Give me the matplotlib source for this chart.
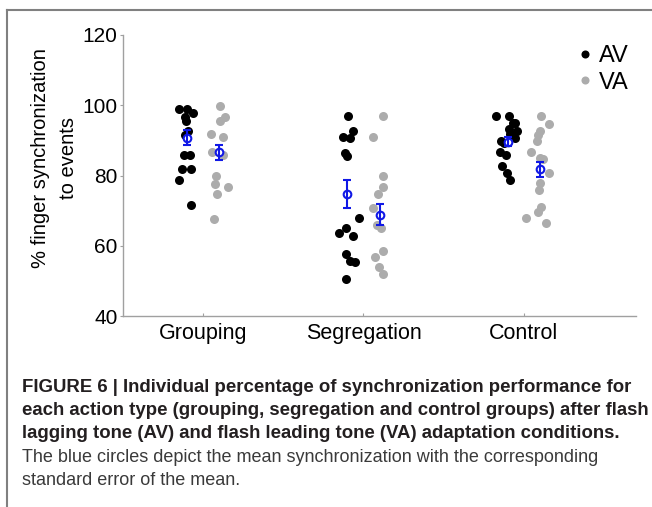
import matplotlib.pyplot as plt
from matplotlib.lines import Line2D

plt.rcParams['font.family'] = ['Liberation Sans', 'DejaVu Sans']

# group names on the x axis
groups = ['Grouping', 'Segregation', 'Control']

# individual values (% synchronization), with the small
# horizontal jitter of each dot relative to its group tick
grouping_av = [98.8, 98.8, 97.7, 96.7, 95.6, 92.8, 91.5, 85.8, 85.8, 81.8, 81.8, 78.7, 71.6]
grouping_av_dx = [-0.148, -0.098, -0.064, -0.112, -0.106, -0.092, -0.112, -0.118, -0.081, -0.133, -0.077, -0.150, -0.077]
grouping_va = [99.8, 96.7, 95.6, 91.8, 90.9, 86.8, 85.8, 79.9, 77.6, 76.8, 74.7, 67.7]
grouping_va_dx = [0.102, 0.137, 0.102, 0.050, 0.123, 0.054, 0.126, 0.081, 0.075, 0.158, 0.089, 0.070]

segregation_av = [96.9, 92.8, 90.9, 90.6, 86.3, 85.6, 67.8, 65.0, 63.7, 62.8, 57.7, 55.7, 55.5, 50.6]
segregation_av_dx = [-0.095, -0.064, -0.130, -0.084, -0.115, -0.105, -0.026, -0.109, -0.151, -0.064, -0.109, -0.084, -0.053, -0.109]
segregation_va = [96.9, 90.9, 79.9, 76.8, 74.7, 70.7, 65.9, 65.0, 58.6, 56.7, 53.9, 52.0]
segregation_va_dx = [0.124, 0.061, 0.119, 0.124, 0.092, 0.057, 0.082, 0.107, 0.119, 0.072, 0.098, 0.119]

control_av = [96.9, 96.9, 95.0, 94.9, 93.2, 92.8, 91.8, 90.6, 89.9, 89.2, 86.8, 85.8, 82.7, 80.8, 78.7]
control_av_dx = [-0.174, -0.092, -0.070, -0.056, -0.092, -0.042, -0.087, -0.056, -0.145, -0.125, -0.150, -0.108, -0.133, -0.104, -0.087]
control_va = [96.9, 94.7, 92.8, 91.5, 89.9, 86.8, 84.9, 84.6, 80.8, 78.0, 75.9, 70.9, 69.7, 67.8, 66.6]
control_va_dx = [0.110, 0.158, 0.100, 0.089, 0.083, 0.048, 0.100, 0.120, 0.158, 0.100, 0.096, 0.110, 0.089, 0.012, 0.137]

# group means and standard errors (blue circles)
mean_av = [90.8, 74.7, 89.6]
sem_av = [2.1, 4.0, 1.3]
mean_va = [86.6, 68.8, 81.8]
sem_va = [2.2, 3.0, 2.1]

av_values = [grouping_av, segregation_av, control_av]
av_dx = [grouping_av_dx, segregation_av_dx, control_av_dx]
va_values = [grouping_va, segregation_va, control_va]
va_dx = [grouping_va_dx, segregation_va_dx, control_va_dx]

av_color = 'black'
va_color = '#acacac'
mean_color = '#1018e6'
spine_color = '#a0a0a0'

fig = plt.figure(figsize=(6.52, 5.07), dpi=100)
ax = fig.add_axes([123 / 652, 1 - 316 / 507, 513 / 652, 281 / 507])

# individual dots
for i in range(len(groups)):
    pos = i + 1
    ax.plot([pos + d for d in av_dx[i]], av_values[i], 'o', color=av_color,
            ms=6.5, mew=0, zorder=2)
    ax.plot([pos + d for d in va_dx[i]], va_values[i], 'o', color=va_color,
            ms=6.5, mew=0, zorder=2)

# means with standard error
x_av = [i + 1 - 0.1 for i in range(len(groups))]
x_va = [i + 1 + 0.1 for i in range(len(groups))]
for xs, m, s in [(x_av, mean_av, sem_av), (x_va, mean_va, sem_va)]:
    ax.plot(xs, m, 'o', ms=5.5, mfc='white', mec=mean_color, mew=1.5, zorder=3)
    ax.errorbar(xs, m, yerr=s, fmt='none', ecolor=mean_color, elinewidth=1.5,
                capsize=2.6, capthick=1.5, zorder=4)

ax.set_xlim(0.5, 3.7)
ax.set_ylim(40, 120)
ax.set_yticks([40, 60, 80, 100, 120])
ax.set_xticks([1, 2, 3])
ax.set_xticklabels(groups)

for side in ['top', 'right']:
    ax.spines[side].set_visible(False)
for side in ['left', 'bottom']:
    ax.spines[side].set_color(spine_color)
    ax.spines[side].set_linewidth(1.0)

ax.tick_params(axis='y', direction='out', length=2.5, width=0.8, color=spine_color,
               labelsize=15, pad=1.5)
ax.tick_params(axis='x', direction='in', length=2.5, width=0.8, color=spine_color,
               labelsize=15.5, pad=5)

# y label, two centred lines
fig.text(54.5 / 652, 1 - 158 / 507, '% finger synchronization\nto events',
         rotation=90, ha='center', va='center', multialignment='center',
         fontsize=14.5, linespacing=1.63)

# legend
handles = [Line2D([], [], marker='o', ls='none', color=av_color, ms=5.8, mew=0),
           Line2D([], [], marker='o', ls='none', color=va_color, ms=5.8, mew=0)]
fig.legend(handles, ['AV', 'VA'], loc='upper left',
           bbox_to_anchor=(578 / 652, 1 - 45 / 507), frameon=False,
           fontsize=17, handlelength=0.6, handletextpad=0.29, labelspacing=0.2,
           borderpad=0, borderaxespad=0)

# frame around the figure panel
fig.add_artist(Line2D([7 / 652, 7 / 652], [0, 1 - 10 / 507], color='#808080', lw=1.5))
fig.add_artist(Line2D([7 / 652, 1], [1 - 10 / 507, 1 - 10 / 507], color='#808080', lw=1.5))

# caption
bold_lines = ['FIGURE 6 | Individual percentage of synchronization performance for',
              'each action type (grouping, segregation and control groups) after flash',
              'lagging tone (AV) and flash leading tone (VA) adaptation conditions.']
plain_lines = ['The blue circles depict the mean synchronization with the corresponding',
               'standard error of the mean.']
line_y = [387, 410.5, 434, 457, 480.5]
for k, t in enumerate(bold_lines):
    fig.text(22 / 652, 1 - line_y[k] / 507, t, ha='left', va='center',
             fontsize=13.4, fontweight='bold', color='#231f20')
for k, t in enumerate(plain_lines):
    fig.text(22 / 652, 1 - line_y[k + 3] / 507, t, ha='left', va='center',
             fontsize=13, color='#3a3a3a')

fig.savefig('out.png', dpi=100)
